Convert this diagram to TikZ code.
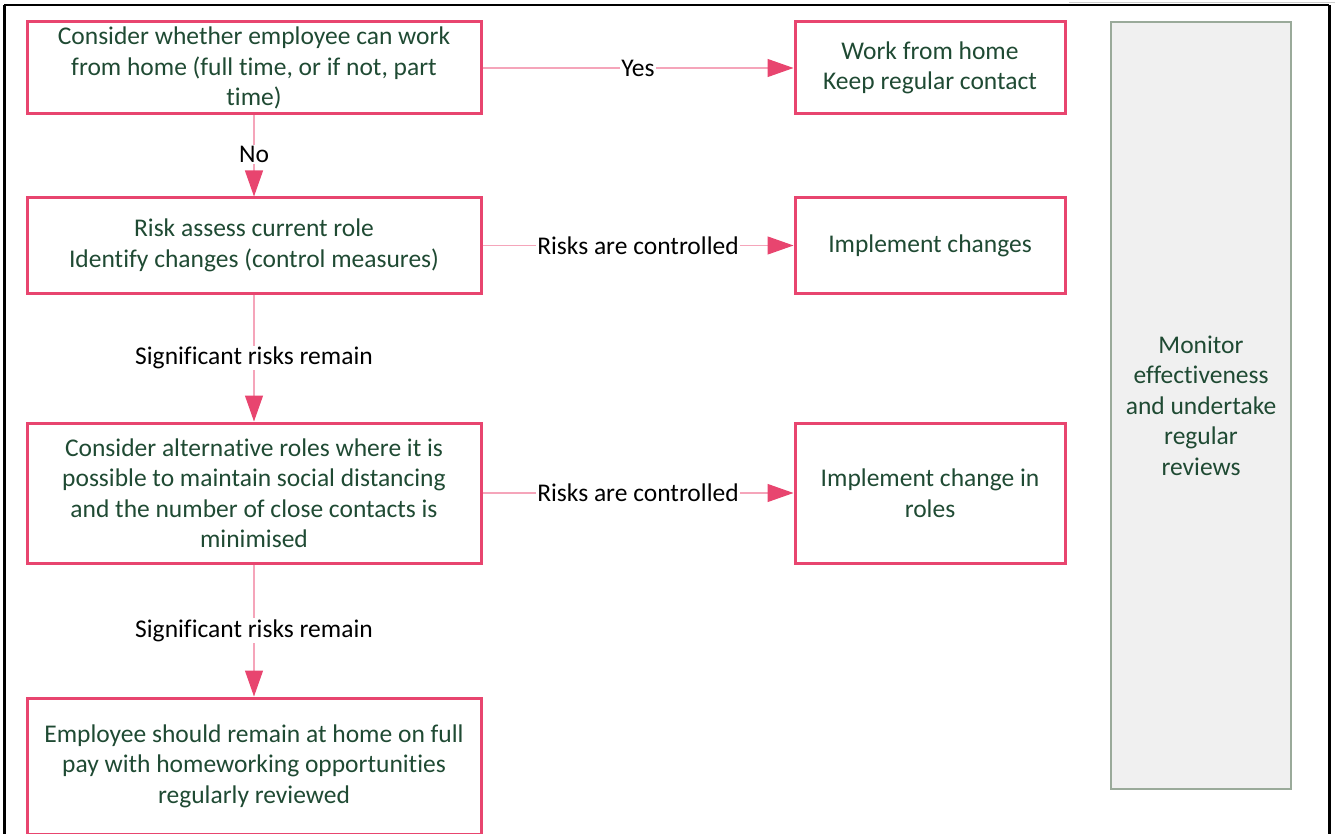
\documentclass[tikz,border=0pt]{standalone}
\usepackage{fontspec}
\setmainfont{Carlito}[Ligatures={NoCommon,NoRequired,NoContextual},RawFeature={-liga;-clig;-rlig;-calt}]
\usetikzlibrary{arrows.meta}
\definecolor{pinkb}{HTML}{E8456F}
\definecolor{pinkl}{HTML}{F5A5BA}
\definecolor{txtg}{HTML}{1F4A33}
\definecolor{greyf}{HTML}{F0F0F0}
\definecolor{greyb}{HTML}{9AAA9A}
\tikzset{
  box/.style={draw=pinkb, line width=3pt, rectangle, align=center, text=txtg,
    font=\fontsize{25.5}{30.5}\selectfont, inner sep=0pt},
  conn/.style={draw=pinkl, line width=1.2pt, -{Triangle[length=26pt,width=18pt,color=pinkb]}},
  lbl/.style={fill=white, text=black, font=\fontsize{25.5}{30}\selectfont, inner sep=1pt},
  frame/.style={draw=black}
}
\begin{document}
\begin{tikzpicture}[x=1pt,y=-1pt]
\useasboundingbox (0,0) rectangle (1335,834);
% outer frame
\draw[frame, line width=1.5pt] (4,5) -- (1329,5);
\draw[frame, line width=2.5pt] (4.5,5) -- (4.5,834);
\draw[frame, line width=2.5pt] (1329.5,5) -- (1329.5,834);
\draw[draw=black!20, line width=0.8pt] (1069,2) -- (1335,2);
% boxes
\node[box, minimum width=454pt, minimum height=92pt] (b1) at (254,68)
  {Consider whether employee can work\\from home (full time, or if not, part\\time)};
\node[box, minimum width=270pt, minimum height=92pt] (b2) at (930,68)
  {Work from home\\Keep regular contact};
\node[box, minimum width=454pt, minimum height=95pt] (b3) at (254,245.5)
  {Risk assess current role\\Identify changes (control measures)};
\node[box, minimum width=270pt, minimum height=95pt] (b4) at (930,245.5)
  {Implement changes};
\node[box, minimum width=454pt, minimum height=140pt] (b5) at (254,493)
  {Consider alternative roles where it is\\possible to maintain social distancing\\and the number of close contacts is\\minimised};
\node[box, minimum width=270pt, minimum height=140pt] (b6) at (930,493)
  {Implement change in\\roles};
\node[box, minimum width=454pt, minimum height=136pt] (b7) at (254,766)
  {Employee should remain at home on full\\pay with homeworking opportunities\\regularly reviewed};
\node[draw=greyb, fill=greyf, line width=1.2pt, minimum width=180pt, minimum height=767pt,
  align=center, text=txtg, font=\fontsize{25.5}{30.5}\selectfont, inner sep=0pt] (mon) at (1201,405.5)
  {Monitor\\effectiveness\\and undertake\\regular\\reviews};
% connectors
\draw[conn] (b1.east) -- node[lbl] {Yes} (b2.west);
\draw[conn] (b1.south) -- node[lbl, pos=0.48] {No} (b3.north);
\draw[conn] (b3.east) -- node[lbl] {Risks are controlled} (b4.west);
\draw[conn] (b3.south) -- node[lbl, pos=0.5] {Significant risks remain} (b5.north);
\draw[conn] (b5.east) -- node[lbl] {Risks are controlled} (b6.west);
\draw[conn] (b5.south) -- node[lbl, pos=0.5] {Significant risks remain} (b7.north);
\end{tikzpicture}
\end{document}
